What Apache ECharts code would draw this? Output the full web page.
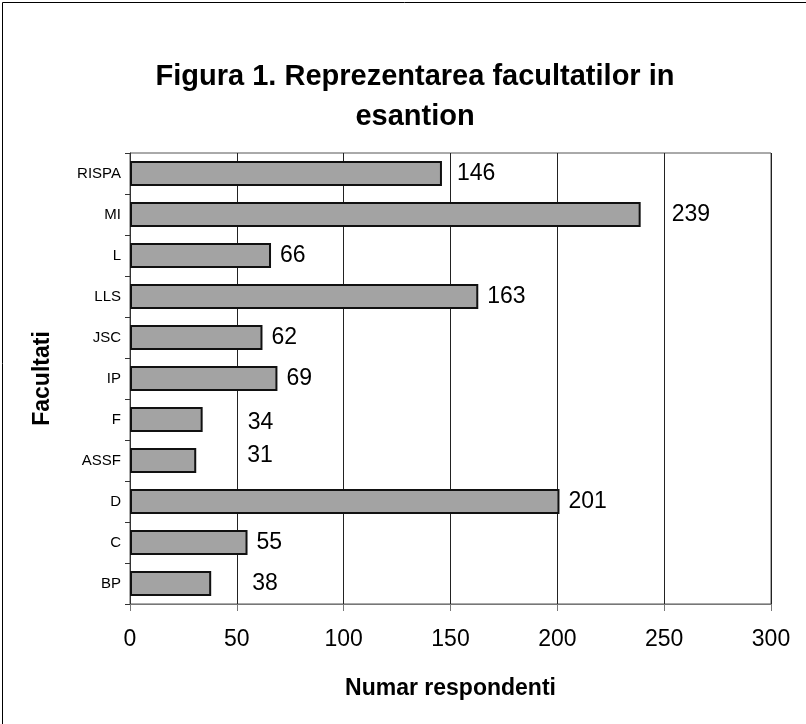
<!DOCTYPE html>
<html>
<head>
<meta charset="utf-8">
<script src="https://cdn.jsdelivr.net/npm/echarts@6/dist/echarts.min.js"></script>
<style>html,body{margin:0;padding:0;background:#fff}#c{width:806px;height:724px}</style>
</head>
<body>
<div id="c"></div>
<script>
const categories = ['BP', 'C', 'D', 'ASSF', 'F', 'IP', 'JSC', 'LLS', 'L', 'MI', 'RISPA'];
const values = [38, 55, 201, 31, 34, 69, 62, 163, 66, 239, 146];
const xTicks = [0, 50, 100, 150, 200, 250, 300];
// label placement tweaks (style only), per category
const labelDx = [32, 0, 0, 42, 36, 0, 0, 0, 0, 22, 6];
const labelDy = [0, 0, 0, -5, 3, 0, 0, 0, 0, 0, 0];

const FONT = '"Liberation Sans", Arial, sans-serif';
const chart = echarts.init(document.getElementById('c'), null, {renderer: 'canvas'});
chart.setOption({
  animation: false,
  backgroundColor: '#fff',
  graphic: [{
    type: 'rect', left: 0, top: 0, z: 100,
    shape: {x: 0.5, y: 0.5, width: 804, height: 722},
    style: {fill: 'none', stroke: '#000', lineWidth: 1}
  }],
  title: {
    text: 'Figura 1. Reprezentarea facultatilor in\nesantion',
    left: 410, top: 52, textAlign: 'center',
    textStyle: {fontFamily: FONT, fontWeight: 'bold', fontSize: 29, lineHeight: 40, color: '#000'}
  },
  grid: {left: 130, right: 35, top: 153, bottom: 120, show: true, borderColor: '#555', borderWidth: 1, containLabel: false},
  xAxis: {
    type: 'value', min: 0, max: 300, interval: 50,
    name: 'Numar respondenti', nameLocation: 'middle', nameGap: 73,
    nameTextStyle: {fontFamily: FONT, fontWeight: 'bold', fontSize: 23, color: '#000'},
    axisLine: {show: true, lineStyle: {color: '#777'}},
    axisTick: {show: true, length: 7, lineStyle: {color: '#777'}},
    axisLabel: {fontFamily: FONT, fontSize: 23, color: '#000', margin: 24,
      formatter: v => xTicks.includes(v) ? String(v) : ''},
    splitLine: {show: true, lineStyle: {color: '#222', width: 1}}
  },
  yAxis: {
    type: 'category', data: categories,
    name: 'Facultati', nameLocation: 'middle', nameGap: 76, nameRotate: 90,
    nameTextStyle: {fontFamily: FONT, fontWeight: 'bold', fontSize: 23, color: '#000'},
    axisLine: {show: true, lineStyle: {color: '#333'}},
    axisTick: {show: true, length: 5, lineStyle: {color: '#333'}},
    axisLabel: {fontFamily: FONT, fontSize: 15, color: '#000', margin: 9},
    splitLine: {show: false}
  },
  series: [{
    type: 'bar', barCategoryGap: '39%',
    data: values.map((v, i) => ({
      value: v,
      label: {offset: [labelDx[i], labelDy[i]]}
    })),
    itemStyle: {color: '#a3a3a3', borderColor: '#111', borderWidth: 2},
    label: {show: true, position: 'right', distance: 9,
      fontFamily: FONT, fontSize: 23, color: '#000'}
  }]
});
</script>
</body>
</html>
